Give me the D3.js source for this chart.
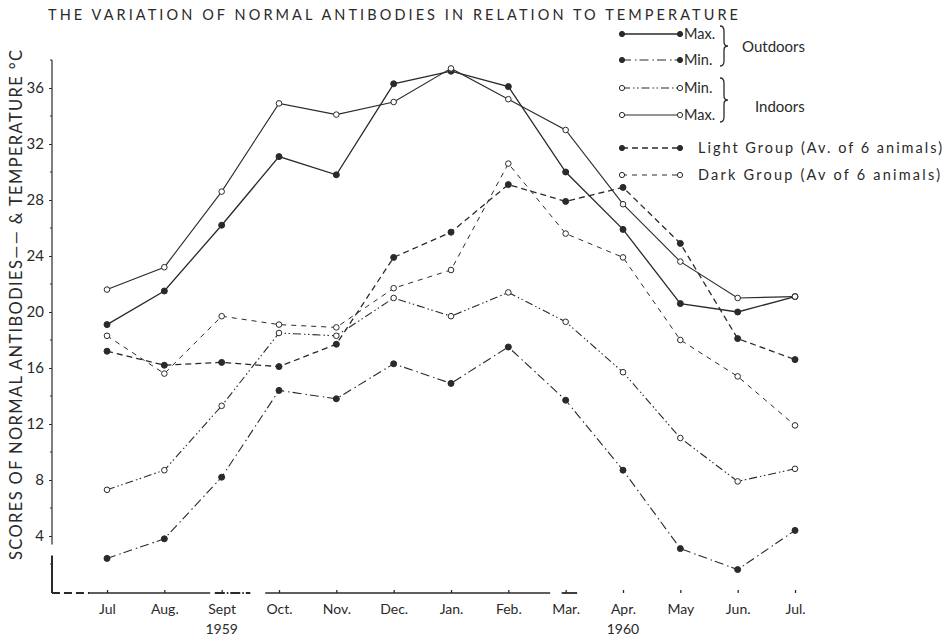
<!DOCTYPE html>
<html>
<head>
<meta charset="utf-8">
<script src="https://cdn.jsdelivr.net/npm/d3@7"></script>
<style>
	body { margin: 0; background: #fff; }
	svg text { font-family: Lato, "Open Sans", sans-serif; fill: #2a2a2a; }
</style>
</head>
<body>
<svg id="chart" width="949" height="638"></svg>
<script>
'use strict';

// months Jul 1959 .. Jul 1960
const months = ['Jul', 'Aug.', 'Sept', 'Oct.', 'Nov.', 'Dec.', 'Jan.', 'Feb.', 'Mar.', 'Apr.', 'May', 'Jun.', 'Jul.'];
const yearLabels = ['1959', '1960'];
const yearAt = [2, 9];
const yTicks = [4, 8, 12, 16, 20, 24, 28, 32, 36];
const yMinor = [2, 6, 10, 14, 18, 22, 26, 30, 34, 38];

// values
const outdoorMax = [19.1, 21.5, 26.2, 31.1, 29.8, 36.3, 37.2, 36.1, 30.0, 25.9, 20.6, 20.0, 21.1];
const outdoorMin = [2.4, 3.8, 8.2, 14.4, 13.8, 16.3, 14.9, 17.5, 13.7, 8.7, 3.1, 1.6, 4.4];
const indoorMin = [7.3, 8.7, 13.3, 18.5, 18.3, 21.0, 19.7, 21.4, 19.3, 15.7, 11.0, 7.9, 8.8];
const indoorMax = [21.6, 23.2, 28.6, 34.9, 34.1, 35.0, 37.4, 35.2, 33.0, 27.7, 23.6, 21.0, 21.1];
const lightGroup = [17.2, 16.2, 16.4, 16.1, 17.7, 23.9, 25.7, 29.1, 27.9, 28.9, 24.9, 18.1, 16.6];
const darkGroup = [18.3, 15.6, 19.7, 19.1, 18.9, 21.7, 23.0, 30.6, 25.6, 23.9, 18.0, 15.4, 11.9];

const INK = '#2a2a2a';

let series = [
	{ values: outdoorMax, dash: null, filled: true, width: 1.3 },
	{ values: outdoorMin, dash: '9,4,1.5,3', filled: true, width: 1.1 },
	{ values: indoorMin, dash: '8,3,1.5,2.5,1.5,3', filled: false, width: 1.1 },
	{ values: indoorMax, dash: null, filled: false, width: 1.1 },
	{ values: lightGroup, dash: '6,4', filled: true, width: 1.3 },
	{ values: darkGroup, dash: '5,5', filled: false, width: 1.0 },
];

let svg = d3.select('#chart');

let x = d3.scalePoint().domain(d3.range(months.length)).range([107, 795]),
	y = d3.scaleLinear().domain([0, 38]).range([592, 60]);

// title
svg.append('text')
	.attr('x', 48).attr('y', 20)
	.attr('font-size', 14.5)
	.attr('textLength', 690).attr('lengthAdjust', 'spacing')
	.text('THE VARIATION OF NORMAL ANTIBODIES IN RELATION TO TEMPERATURE');

// y axis
let yAxis = svg.append('g')
	.attr('transform', 'translate(52,0)')
	.call(d3.axisLeft(y).tickValues(yTicks).tickSize(3).tickPadding(5));
yAxis.select('.domain').remove();
yAxis.selectAll('.tick line').attr('stroke', INK);
yAxis.selectAll('.tick text').attr('font-size', 15).style('fill', INK);
svg.append('g').selectAll('line').data(yMinor).join('line')
	.attr('x1', 50).attr('x2', 52)
	.attr('y1', d => y(d)).attr('y2', d => y(d))
	.attr('stroke', INK);
svg.append('line')
	.attr('x1', 52).attr('x2', 52).attr('y1', y(38)).attr('y2', y(3.4))
	.attr('stroke', INK).attr('stroke-width', 1.2);
svg.append('line')
	.attr('x1', 52).attr('x2', 52).attr('y1', y(2.6)).attr('y2', y(0) + 1)
	.attr('stroke', INK).attr('stroke-width', 2);

// y label
svg.append('text')
	.attr('transform', 'translate(22,560) rotate(-90)')
	.attr('font-size', 16.5)
	.attr('textLength', 510).attr('lengthAdjust', 'spacing')
	.text('SCORES OF NORMAL ANTIBODIES—— & TEMPERATURE °C');

// x axis: broken baseline in month units
let xi = d3.scaleLinear().domain([0, months.length - 1]).range(x.range());
let baseline = [
	[-0.96, -0.3, '8,4', 2],
	[-0.3, 1.8, null, 1.3],
	[1.88, 2.5, '10,2,1.5,2', 1.8],
	[2.76, 7.73, null, 1.3],
	[7.93, 8.2, null, 1.8],
];
svg.append('g').selectAll('line').data(baseline).join('line')
	.attr('x1', d => xi(d[0])).attr('x2', d => xi(d[1]))
	.attr('y1', y(0) + 1).attr('y2', y(0) + 1)
	.attr('stroke', INK).attr('stroke-width', d => d[3])
	.attr('stroke-dasharray', d => d[2]);

let xAxis = svg.append('g')
	.attr('transform', `translate(0,${y(0) + 1})`)
	.call(d3.axisBottom(x).tickSize(-3).tickPadding(11).tickFormat(i => months[i]));
xAxis.select('.domain').remove();
xAxis.selectAll('.tick line').attr('stroke', INK).attr('stroke-width', 1.3);
xAxis.selectAll('.tick text').attr('font-size', 14).style('fill', INK);

svg.append('g').selectAll('text').data(yearLabels).join('text')
	.attr('x', (d, i) => x(yearAt[i]))
	.attr('y', 634)
	.attr('text-anchor', 'middle')
	.attr('font-size', 14)
	.text(d => d);

// series
let line = d3.line().x((d, i) => x(i)).y(d => y(d));
let plot = svg.append('g');
series.forEach(s => {
	plot.append('path')
		.datum(s.values)
		.attr('d', line)
		.attr('fill', 'none')
		.attr('stroke', INK)
		.attr('stroke-width', s.width)
		.attr('stroke-dasharray', s.dash);
});
series.forEach(s => {
	plot.append('g').selectAll('circle').data(s.values).join('circle')
		.attr('cx', (d, i) => x(i))
		.attr('cy', d => y(d))
		.attr('r', s.filled ? 3 : 2.8)
		.attr('fill', s.filled ? INK : '#fff')
		.attr('stroke', INK)
		.attr('stroke-width', 1);
});

// legend
let legendRows = [
	{ s: 0, y: 34, label: 'Max.', tx: 684 },
	{ s: 1, y: 60, label: 'Min.', tx: 684 },
	{ s: 2, y: 88, label: 'Min.', tx: 684 },
	{ s: 3, y: 115, label: 'Max.', tx: 684 },
	{ s: 4, y: 148, label: 'Light Group (Av. of 6 animals)', tx: 698, len: 244 },
	{ s: 5, y: 175, label: 'Dark Group (Av  of 6 animals)', tx: 698, len: 242 },
];
let legend = svg.append('g');
legendRows.forEach(r => {
	let s = series[r.s];
	legend.append('line')
		.attr('x1', 622).attr('x2', 680).attr('y1', r.y).attr('y2', r.y)
		.attr('stroke', INK).attr('stroke-width', s.width)
		.attr('stroke-dasharray', s.dash);
	[622, 680].forEach(cx => {
		legend.append('circle')
			.attr('cx', cx).attr('cy', r.y).attr('r', 2.6)
			.attr('fill', s.filled ? INK : '#fff')
			.attr('stroke', INK);
	});
	let t = legend.append('text')
		.attr('x', r.tx).attr('y', r.y + 5)
		.attr('font-size', 14.5)
		.text(r.label);
	if (r.len) t.attr('textLength', r.len).attr('lengthAdjust', 'spacing');
});

// braces
function brace(x0, y0, y1) {
	let m = (y0 + y1) / 2;
	return `M${x0},${y0} Q${x0 + 4},${y0} ${x0 + 4},${y0 + 5} L${x0 + 4},${m - 4} Q${x0 + 4},${m} ${x0 + 8},${m}`
		+ ` Q${x0 + 4},${m} ${x0 + 4},${m + 4} L${x0 + 4},${y1 - 5} Q${x0 + 4},${y1} ${x0},${y1}`;
}
legend.append('path').attr('d', brace(720, 26, 66)).attr('fill', 'none').attr('stroke', INK).attr('stroke-width', 1.3);
legend.append('path').attr('d', brace(720, 78, 122)).attr('fill', 'none').attr('stroke', INK).attr('stroke-width', 1.3);
legend.append('text').attr('x', 742).attr('y', 52).attr('font-size', 15).text('Outdoors');
legend.append('text').attr('x', 755).attr('y', 112).attr('font-size', 15).text('Indoors');
</script>
</body>
</html>
